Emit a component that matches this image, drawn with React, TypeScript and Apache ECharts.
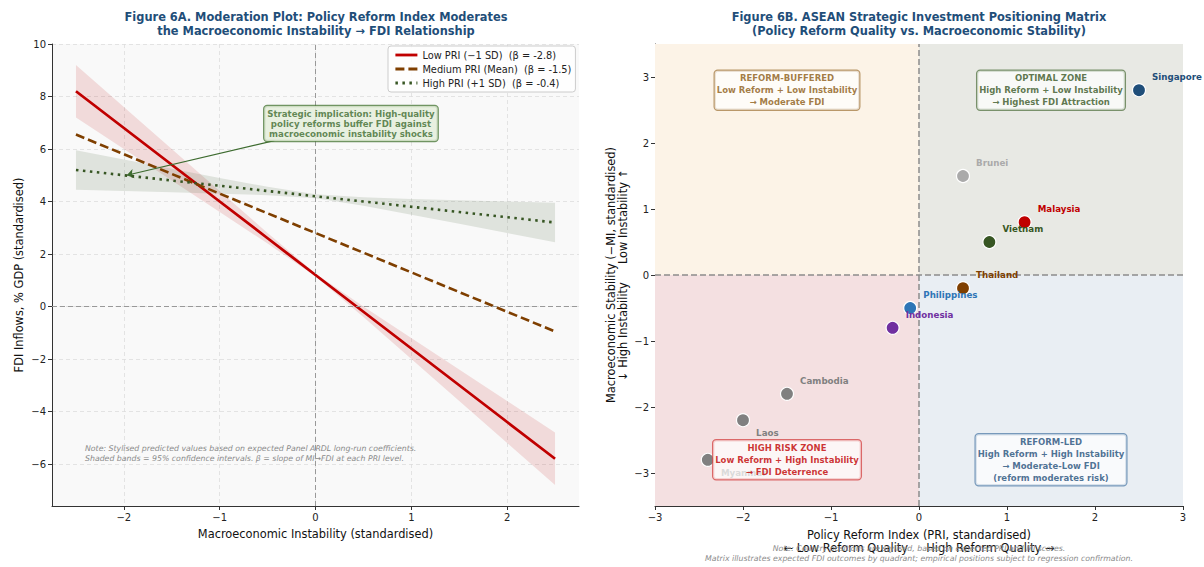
import React, { useEffect, useRef } from 'react';
import * as echarts from 'echarts';

// ---------- Figure 6A data ----------
const MI_X = [-2.5, -2, -1.5, -1, -0.5, 0, 0.5, 1, 1.5, 2, 2.5];
const LOW_PRI = [8.2, 6.8, 5.4, 4.0, 2.6, 1.2, -0.2, -1.6, -3.0, -4.4, -5.8];
const LOW_PRI_UPPER = [9.2, 7.6, 6.0, 4.4, 2.8, 1.26, 0.0, -1.2, -2.4, -3.6, -4.8];
const LOW_PRI_LOWER = [7.2, 6.0, 4.8, 3.6, 2.4, 1.14, -0.4, -2.0, -3.6, -5.2, -6.8];
const MED_PRI = [6.55, 5.8, 5.05, 4.3, 3.55, 2.8, 2.05, 1.3, 0.55, -0.2, -0.95];
const HIGH_PRI = [5.2, 5.0, 4.8, 4.6, 4.4, 4.2, 4.0, 3.8, 3.6, 3.4, 3.2];
const HIGH_PRI_UPPER = [5.95, 5.6, 5.25, 4.9, 4.56, 4.28, 4.16, 4.1, 4.05, 4.0, 3.95];
const HIGH_PRI_LOWER = [4.45, 4.4, 4.35, 4.3, 4.24, 4.12, 3.84, 3.5, 3.15, 2.8, 2.45];
const SERIES_NAMES = [
  'Low PRI (\u22121 SD)  (\u03b2 = -2.8)',
  'Medium PRI (Mean)  (\u03b2 = -1.5)',
  'High PRI (+1 SD)  (\u03b2 = -0.4)',
];
const LEFT_X_TICKS = [-2, -1, 0, 1, 2];
const LEFT_Y_TICKS = [-6, -4, -2, 0, 2, 4, 6, 8, 10];
const ANNOT_BOX = [0.37, 6.97];
const ARROW_FROM = [-0.43, 6.32];
const ARROW_TO = [-1.97, 5.0];

// ---------- Figure 6B data ----------
const COUNTRIES = ['Singapore', 'Brunei', 'Malaysia', 'Vietnam', 'Thailand', 'Philippines', 'Indonesia', 'Cambodia', 'Laos', 'Myanmar'];
const PRI_SCORE = [2.5, 0.5, 1.2, 0.8, 0.5, -0.1, -0.3, -1.5, -2.0, -2.4];
const STABILITY = [2.8, 1.5, 0.8, 0.5, -0.2, -0.5, -0.8, -1.8, -2.2, -2.8];
const COUNTRY_COLORS = ['#1f4e79', '#aaaaaa', '#c00000', '#375623', '#7f3f00', '#2e75b6', '#7030a0', '#808080', '#808080', '#808080'];
const LABEL_BELOW = ['Laos', 'Myanmar'];
const RIGHT_TICKS = [-3, -2, -1, 0, 1, 2, 3];
const QUAD_BOUNDS = [
  [[-3, 0], [0, 3.5]],
  [[0, 0], [3, 3.5]],
  [[-3, -3.5], [0, 0]],
  [[0, -3.5], [3, 0]],
];
const QUAD_FILLS = ['#fcf3e7', '#e8e9e4', '#f4e0e1', '#e9eef3'];
const QUAD_LABEL_POS = [[-1.5, 2.8], [1.5, 2.8], [-1.5, -2.8], [1.5, -2.8]];
const QUAD_LABELS = [
  'REFORM-BUFFERED\nLow Reform + Low Instability\n\u2192 Moderate FDI',
  'OPTIMAL ZONE\nHigh Reform + Low Instability\n\u2192 Highest FDI Attraction',
  'HIGH RISK ZONE\nLow Reform + High Instability\n\u2192 FDI Deterrence',
  'REFORM-LED\nHigh Reform + High Instability\n\u2192 Moderate-Low FDI\n(reform moderates risk)',
];
const QUAD_TEXT_COLORS = ['#8b5a13', '#375623', '#c00000', '#1f4e79'];
const QUAD_BORDER_COLORS = ['#a8804a', '#5d7a4c', '#d54a4a', '#5a83ad'];

const FONT = '"DejaVu Sans", Verdana, sans-serif';
const fmtMinus = (v: number) => String(v).replace('-', '\u2212');

function band(upper: number[], lower: number[], fill: string) {
  return {
    type: 'custom',
    xAxisIndex: 0,
    yAxisIndex: 0,
    silent: true,
    z: 1,
    data: [[0, 0]],
    renderItem: (_p: any, api: any) => {
      const pts: number[][] = [];
      MI_X.forEach((x, i) => pts.push(api.coord([x, upper[i]])));
      for (let i = MI_X.length - 1; i >= 0; i--) pts.push(api.coord([MI_X[i], lower[i]]));
      return { type: 'polygon', shape: { points: pts }, style: { fill, stroke: 'none' } };
    },
  };
}

const axisCommon = {
  axisLine: { show: true, onZero: false, lineStyle: { color: '#333', width: 1 } },
  axisTick: { show: true, length: 4, lineStyle: { color: '#333' } },
  axisLabel: { color: '#222', fontSize: 10, fontFamily: FONT, formatter: fmtMinus, margin: 6 },
  nameTextStyle: { color: '#111', fontSize: 11.4, fontFamily: FONT },
};

export default function App() {
  const ref = useRef<HTMLDivElement>(null);
  useEffect(() => {
    document.body.style.margin = '0';
    if (!ref.current) return;
    const chart = echarts.init(ref.current, undefined, { renderer: 'svg' });
    const lineColors = ['#c00000', '#7f3f00', '#375623'];
    const lineData = [LOW_PRI, MED_PRI, HIGH_PRI];
    const lineTypes: any[] = ['solid', [9, 4], [2.5, 4.5]];

    const option: any = {
      animation: false,
      backgroundColor: '#ffffff',
      textStyle: { fontFamily: FONT },
      grid: [
        { left: 52, top: 44, width: 527, height: 462, show: true, backgroundColor: '#f9f9f9', borderWidth: 0 },
        { left: 655, top: 44, width: 528, height: 462, show: false },
      ],
      xAxis: [
        {
          ...axisCommon, type: 'value', gridIndex: 0, min: -2.75, max: 2.75,
          axisTick: { ...axisCommon.axisTick, customValues: LEFT_X_TICKS },
          axisLabel: { ...axisCommon.axisLabel, customValues: LEFT_X_TICKS },
          splitLine: { show: true, lineStyle: { color: '#dddddd', type: [4, 3], width: 0.8 } },
          name: 'Macroeconomic Instability (standardised)', nameLocation: 'middle', nameGap: 22,
        },
        {
          ...axisCommon, type: 'value', gridIndex: 1, min: -3, max: 3, interval: 1,
          splitLine: { show: false },
          name: 'Policy Reform Index (PRI, standardised)\n\u2190 Low Reform Quality     High Reform Quality \u2192',
          nameLocation: 'middle', nameGap: 22,
          nameTextStyle: { ...axisCommon.nameTextStyle, lineHeight: 13 },
        },
      ],
      yAxis: [
        {
          ...axisCommon, type: 'value', gridIndex: 0, min: -7.6, max: 10,
          axisTick: { ...axisCommon.axisTick, customValues: LEFT_Y_TICKS },
          axisLabel: { ...axisCommon.axisLabel, customValues: LEFT_Y_TICKS },
          splitLine: { show: true, lineStyle: { color: '#dddddd', type: [4, 3], width: 0.8 } },
          name: 'FDI Inflows, % GDP (standardised)', nameLocation: 'middle', nameGap: 28,
        },
        {
          ...axisCommon, type: 'value', gridIndex: 1, min: -3.5, max: 3.5,
          axisTick: { ...axisCommon.axisTick, customValues: RIGHT_TICKS },
          axisLabel: { ...axisCommon.axisLabel, customValues: RIGHT_TICKS },
          splitLine: { show: false },
          name: 'Macroeconomic Stability (\u2212MI, standardised)\n\u2193 High Instability     Low Instability \u2191',
          nameLocation: 'middle', nameGap: 26,
          nameTextStyle: { ...axisCommon.nameTextStyle, lineHeight: 12 },
        },
      ],
      legend: {
        data: SERIES_NAMES,
        orient: 'vertical',
        left: 388,
        top: 46,
        itemWidth: 22,
        itemHeight: 12,
        itemGap: 4,
        padding: [4, 4, 4, 6],
        backgroundColor: 'rgba(255,255,255,0.85)',
        borderColor: '#cccccc',
        borderWidth: 1,
        borderRadius: 3,
        itemStyle: { opacity: 0 },
        lineStyle: { width: 2.8 },
        textStyle: { fontSize: 9.8, color: '#222', fontFamily: FONT },
      },
      series: [
        band(LOW_PRI_UPPER, LOW_PRI_LOWER, 'rgba(192,0,0,0.12)'),
        band(HIGH_PRI_UPPER, HIGH_PRI_LOWER, 'rgba(55,86,35,0.13)'),
        {
          type: 'line', xAxisIndex: 0, yAxisIndex: 0, data: [], silent: true, z: 2,
          markLine: {
            silent: true, symbol: 'none', label: { show: false },
            lineStyle: { color: '#999999', type: [5, 3], width: 1 },
            data: [{ xAxis: 0 }, { yAxis: 0 }],
          },
        },
        ...lineData.map((d, k) => ({
          name: SERIES_NAMES[k],
          type: 'line', xAxisIndex: 0, yAxisIndex: 0, z: 3 + k,
          data: MI_X.map((x, i) => [x, d[i]]),
          symbol: 'none', showSymbol: false,
          lineStyle: { color: lineColors[k], width: k === 0 ? 2.8 : 2.6, type: lineTypes[k], cap: 'butt' },
          itemStyle: { color: lineColors[k] },
        })),
        {
          type: 'line', xAxisIndex: 0, yAxisIndex: 0, data: [], silent: true, z: 8,
          markLine: {
            silent: true, symbol: ['none', 'arrow'], symbolSize: 7, label: { show: false },
            lineStyle: { color: '#3d6b2f', type: 'solid', width: 1.2 },
            data: [[{ coord: ARROW_FROM }, { coord: ARROW_TO }]],
          },
        },
        {
          type: 'scatter', xAxisIndex: 0, yAxisIndex: 0, z: 9, silent: true,
          symbolSize: 1, itemStyle: { color: 'rgba(0,0,0,0)' },
          data: [ANNOT_BOX],
          label: {
            show: true, position: 'inside', align: 'center', verticalAlign: 'middle',
            formatter: 'Strategic implication: High-quality\npolicy reforms buffer FDI against\nmacroeconomic instability shocks',
            color: '#3d6b2f', fontWeight: 'bold', fontSize: 8.6, lineHeight: 10, fontFamily: FONT,
            backgroundColor: '#e4eed9', borderColor: '#4d7a3c', borderWidth: 1.2, borderRadius: 3,
            padding: [3, 3, 2, 3],
          },
        },
        // ---------- right chart ----------
        {
          type: 'line', xAxisIndex: 1, yAxisIndex: 1, data: [], silent: true, z: 0,
          markArea: {
            silent: true,
            data: QUAD_BOUNDS.map((b, i) => [
              { xAxis: b[0][0], yAxis: b[0][1], itemStyle: { color: QUAD_FILLS[i] } },
              { xAxis: b[1][0], yAxis: b[1][1] },
            ]),
          },
        },
        {
          type: 'line', xAxisIndex: 1, yAxisIndex: 1, data: [], silent: true, z: 1,
          markLine: {
            silent: true, symbol: 'none', label: { show: false },
            lineStyle: { color: '#8c8c8c', type: [6, 3], width: 1.5 },
            data: [{ xAxis: 0 }, { yAxis: 0 }],
          },
        },
        {
          type: 'scatter', xAxisIndex: 1, yAxisIndex: 1, z: 5, symbolSize: 13,
          data: COUNTRIES.map((c, i) => ({
            name: c,
            value: [PRI_SCORE[i], STABILITY[i]],
            itemStyle: { color: COUNTRY_COLORS[i], opacity: 1, borderColor: '#ffffff', borderWidth: 1.2 },
            label: {
              show: true, position: 'right', distance: 6,
              offset: [0, LABEL_BELOW.includes(c) ? 13 : -13],
              formatter: c, color: COUNTRY_COLORS[i],
              fontWeight: 'bold', fontSize: 8.7, fontFamily: FONT,
            },
          })),
        },
        {
          type: 'scatter', xAxisIndex: 1, yAxisIndex: 1, z: 6, silent: true,
          symbolSize: 1,
          data: QUAD_LABEL_POS.map((p, i) => ({
            value: p,
            itemStyle: { color: 'rgba(0,0,0,0)' },
            label: {
              show: true, position: 'inside', align: 'center', verticalAlign: 'middle',
              formatter: QUAD_LABELS[i],
              color: QUAD_TEXT_COLORS[i], fontWeight: 'bold', fontSize: 8.5, lineHeight: 12,
              fontFamily: FONT,
              backgroundColor: 'rgba(255,255,255,0.88)', borderColor: QUAD_BORDER_COLORS[i],
              borderWidth: 1.2, borderRadius: 3, padding: [2, 2, 1, 2],
            },
          })),
        },
      ],
      graphic: [
        {
          type: 'text', x: 316, y: 10,
          style: {
            text: 'Figure 6A. Moderation Plot: Policy Reform Index Moderates\nthe Macroeconomic Instability \u2192 FDI Relationship',
            textAlign: 'center', fill: '#1f4e79', font: `bold 11.4px ${FONT}`, lineHeight: 14,
          },
        },
        {
          type: 'text', x: 919, y: 10,
          style: {
            text: 'Figure 6B. ASEAN Strategic Investment Positioning Matrix\n(Policy Reform Quality vs. Macroeconomic Stability)',
            textAlign: 'center', fill: '#1f4e79', font: `bold 11.4px ${FONT}`, lineHeight: 14,
          },
        },
        {
          type: 'text', x: 85, y: 443, z: 10,
          style: {
            text: 'Note: Stylised predicted values based on expected Panel ARDL long-run coefficients.\nShaded bands = 95% confidence intervals. \u03b2 = slope of MI\u2192FDI at each PRI level.',
            fill: '#8a8a8a', font: `italic 7.8px ${FONT}`, lineHeight: 10,
          },
        },
        {
          type: 'text', x: 919, y: 543, z: 10,
          style: {
            text: 'Note: Country positions are stylised, based on expected PRI and MI scores.\nMatrix illustrates expected FDI outcomes by quadrant; empirical positions subject to regression confirmation.',
            textAlign: 'center', fill: '#8a8a8a', font: `italic 7.8px ${FONT}`, lineHeight: 10,
          },
        },
      ],
    };
    chart.setOption(option);
    return () => chart.dispose();
  }, []);
  return <div ref={ref} style={{ width: 1204, height: 567 }} />;
}
